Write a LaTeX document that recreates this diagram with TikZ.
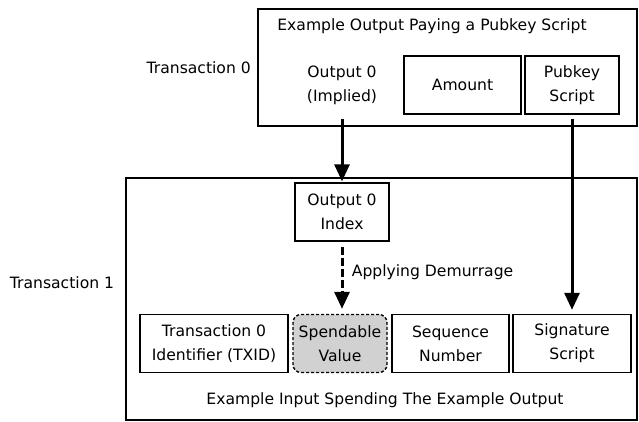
\documentclass[tikz,border=0pt]{standalone}
\usepackage{fontspec}
\setmainfont{DejaVu Sans}
\usetikzlibrary{arrows.meta,positioning}

\tikzset{
  field/.style={draw, line width=1.4pt, align=center, inner sep=0pt,
    minimum height=58pt},
  txbox/.style={draw, line width=1.4pt, inner sep=0pt},
  link/.style={line width=3pt, -{Triangle[width=15pt,length=17pt]}},
}

\begin{document}
\begin{tikzpicture}[x=1pt,y=-1pt,font=\fontsize{15.6}{24}\selectfont]
\useasboundingbox (0,0) rectangle (639,421);
% transaction 0
\node[txbox, minimum width=379pt, minimum height=117pt] (tx0) at (447.5,67.5) {};
\node (tx0title) at (432,26) {Example Output Paying a Pubkey Script};
\node[left=3pt of tx0.west] (tx0label) {Transaction 0};
\node[field, draw=none, minimum width=94pt] (out0) at (342,85) {Output 0\\(Implied)};
\node[field, minimum width=117pt] (amount) at (462.5,85) {Amount};
\node[field, minimum width=94pt] (pubkey) at (572,85) {Pubkey\\Script};
% transaction 1
\node[txbox, minimum width=511pt, minimum height=242pt] (tx1) at (381.5,299) {};
\node (tx1title) at (385,400) {Example Input Spending The Example Output};
\node (tx1label) at (62,283) {Transaction 1};
\node[field, minimum width=94pt] (idx) at (342,212) {Output 0\\Index};
\node[field, minimum width=148pt] (txid) at (214,343.5) {Transaction 0\\Identifier (TXID)};
\node[field, minimum width=94pt, rounded corners=8pt, fill=black!18,
  dash pattern=on 3pt off 2pt] (value) at (340,343.5) {Spendable\\Value};
\node[field, minimum width=117pt] (seq) at (450.5,343.5) {Sequence\\Number};
\node[field, minimum width=118pt] (sig) at (572,343.5) {Signature\\Script};
% links
\draw[link, shorten <=4pt, shorten >=1pt] (out0.south) -- (idx.north);
\draw[link, shorten <=4pt, shorten >=4pt] (pubkey.south) -- (sig.north);
\draw[link, dash pattern=on 8pt off 3pt, shorten <=5pt, shorten >=5pt]
  (idx.south) -- node[right=5pt, pos=0.42] {Applying Demurrage} (idx.south |- value.north);
\end{tikzpicture}
\end{document}
